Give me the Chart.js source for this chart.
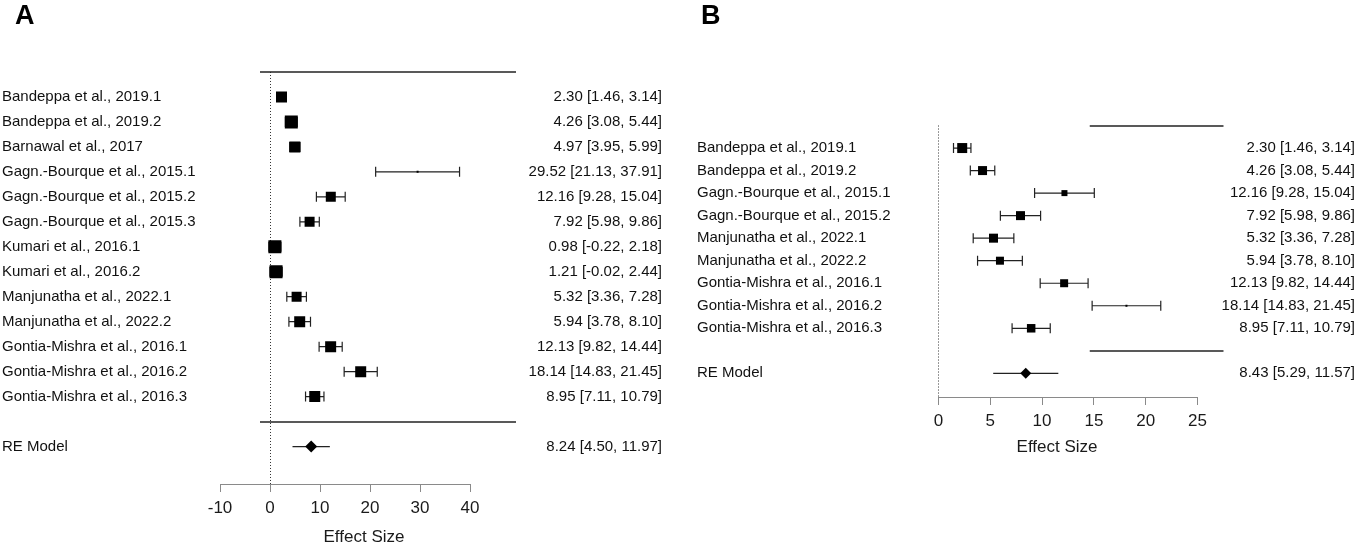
<!DOCTYPE html>
<html>
<head>
<meta charset="utf-8">
<script src="https://cdn.jsdelivr.net/npm/chart.js@4.4.1/dist/chart.umd.min.js"></script>
<style>
  body { margin: 0; background: #fff; }
  #wrap { position: relative; width: 1358px; height: 544px; font-family: "Liberation Sans", Arial, sans-serif; }
  canvas { position: absolute; top: 0; }
  #chartA { left: 0; }
  #chartB { left: 680px; }
  .panel { position: absolute; top: 2px; font-weight: bold; font-size: 27px; line-height: 27px; color: #000; }
</style>
</head>
<body>
<div id="wrap">
  <canvas id="chartA" width="680" height="544"></canvas>
  <canvas id="chartB" width="678" height="544"></canvas>
  <div class="panel" style="left:15px">A</div>
  <div class="panel" style="left:701px">B</div>
</div>
<script>
// panel A - all studies
var studiesA = ["Bandeppa et al., 2019.1", "Bandeppa et al., 2019.2", "Barnawal et al., 2017",
  "Gagn.-Bourque et al., 2015.1", "Gagn.-Bourque et al., 2015.2", "Gagn.-Bourque et al., 2015.3",
  "Kumari et al., 2016.1", "Kumari et al., 2016.2", "Manjunatha et al., 2022.1", "Manjunatha et al., 2022.2",
  "Gontia-Mishra et al., 2016.1", "Gontia-Mishra et al., 2016.2", "Gontia-Mishra et al., 2016.3"];
var estA = [2.30, 4.26, 4.97, 29.52, 12.16, 7.92, 0.98, 1.21, 5.32, 5.94, 12.13, 18.14, 8.95];
var lowA = [1.46, 3.08, 3.95, 21.13, 9.28, 5.98, -0.22, -0.02, 3.36, 3.78, 9.82, 14.83, 7.11];
var highA = [3.14, 5.44, 5.99, 37.91, 15.04, 9.86, 2.18, 2.44, 7.28, 8.10, 14.44, 21.45, 10.79];
var reA = [8.24, 4.50, 11.97];
var ticksA = [-10, 0, 10, 20, 30, 40];

// panel B - subset
var studiesB = ["Bandeppa et al., 2019.1", "Bandeppa et al., 2019.2", "Gagn.-Bourque et al., 2015.1",
  "Gagn.-Bourque et al., 2015.2", "Manjunatha et al., 2022.1", "Manjunatha et al., 2022.2",
  "Gontia-Mishra et al., 2016.1", "Gontia-Mishra et al., 2016.2", "Gontia-Mishra et al., 2016.3"];
var estB = [2.30, 4.26, 12.16, 7.92, 5.32, 5.94, 12.13, 18.14, 8.95];
var lowB = [1.46, 3.08, 9.28, 5.98, 3.36, 3.78, 9.82, 14.83, 7.11];
var highB = [3.14, 5.44, 15.04, 9.86, 7.28, 8.10, 14.44, 21.45, 10.79];
var reB = [8.43, 5.29, 11.57];
var ticksB = [0, 5, 10, 15, 20, 25];

// box side in px (weights)
var boxA = [11, 13, 11, 2, 10, 10, 13, 13, 10, 11, 11, 11, 11];
var boxB = [10, 9, 6, 9, 9, 8, 8, 2, 8.5];

var FONT = "'Liberation Sans', Arial, sans-serif";
Chart.defaults.font.family = FONT;
Chart.defaults.color = '#1a1a1a';

function fmt(e, l, h) {
  return e.toFixed(2) + ' [' + l.toFixed(2) + ', ' + h.toFixed(2) + ']';
}

function forestPlugin(lo, hi, re, k, lay) {
  return {
    id: 'forest',
    beforeDatasetsDraw: function(chart) {
      var ctx = chart.ctx, area = chart.chartArea, x = chart.scales.x, y = chart.scales.y;
      ctx.save();
      // dotted line at zero
      var x0 = Math.round(x.getPixelForValue(0)) + 0.5;
      ctx.strokeStyle = '#333';
      ctx.lineWidth = 1;
      ctx.setLineDash([1, 2]);
      ctx.beginPath();
      ctx.moveTo(x0, y.getPixelForValue(k + 1));
      ctx.lineTo(x0, area.bottom);
      ctx.stroke();
      ctx.setLineDash([]);
      // rules above and below the studies
      ctx.strokeStyle = '#222';
      ctx.lineWidth = 1.5;
      [k + 1, 0].forEach(function(r) {
        var py = Math.round(y.getPixelForValue(r));
        ctx.beginPath();
        ctx.moveTo(x.getPixelForValue(lay.ruleFrom), py);
        ctx.lineTo(x.getPixelForValue(lay.ruleTo), py);
        ctx.stroke();
      });
      // axis line between first and last tick
      ctx.strokeStyle = '#8a8a8a';
      ctx.lineWidth = 1;
      var ay = Math.round(area.bottom) + 0.5;
      ctx.beginPath();
      ctx.moveTo(x.getPixelForValue(lay.ticks[0]), ay);
      ctx.lineTo(x.getPixelForValue(lay.ticks[lay.ticks.length - 1]), ay);
      ctx.stroke();
      // confidence intervals
      ctx.strokeStyle = '#222';
      ctx.lineWidth = 1.2;
      lo.forEach(function(l, i) {
        var py = y.getPixelForValue(k - i), a = x.getPixelForValue(l), b = x.getPixelForValue(hi[i]);
        ctx.beginPath();
        ctx.moveTo(a, py); ctx.lineTo(b, py);
        ctx.moveTo(a, py - 5); ctx.lineTo(a, py + 5);
        ctx.moveTo(b, py - 5); ctx.lineTo(b, py + 5);
        ctx.stroke();
      });
      var ry = y.getPixelForValue(-1);
      ctx.beginPath();
      ctx.moveTo(x.getPixelForValue(re[1]), ry);
      ctx.lineTo(x.getPixelForValue(re[2]), ry);
      ctx.stroke();
      ctx.restore();
    },
    afterDraw: function(chart) {
      // axis title, centred like the original rather than on the chart area
      var ctx = chart.ctx, x = chart.scales.x;
      ctx.save();
      ctx.font = '17px ' + FONT;
      ctx.fillStyle = '#1a1a1a';
      ctx.textAlign = 'center';
      ctx.textBaseline = 'middle';
      ctx.fillText('Effect Size', x.getPixelForValue(lay.titleAt), chart.chartArea.bottom + lay.titleDy);
      ctx.restore();
    }
  };
}

function buildForest(id, names, est, lo, hi, re, boxes, lay) {
  var k = names.length;
  var rows = names.map(function(n, i) { return k - i; }).concat([-1]);
  var pts = est.map(function(e, i) { return {x: e, y: k - i}; });
  var leftLabel = function(v) { return v === -1 ? 'RE Model' : names[k - v]; };
  var rightLabel = function(v) {
    return v === -1 ? fmt(re[0], re[1], re[2]) : fmt(est[k - v], lo[k - v], hi[k - v]);
  };
  var yAxis = function(pos, cb, w) {
    return {
      type: 'linear', position: pos, min: lay.yMin, max: lay.yMax,
      grid: {display: false}, border: {display: false},
      afterBuildTicks: function(s) { s.ticks = rows.map(function(r) { return {value: r}; }); },
      afterFit: function(s) { s.width = w; },
      ticks: {autoSkip: false, crossAlign: 'far', padding: 0, font: {size: 15}, color: '#111', callback: cb}
    };
  };
  return new Chart(document.getElementById(id), {
    type: 'scatter',
    data: {
      datasets: [
        {data: pts, pointStyle: 'rect', backgroundColor: '#000', borderWidth: 0,
          pointRadius: boxes.map(function(s) { return s / Math.SQRT2; })},
        {data: [{x: re[0], y: -1}], pointStyle: 'rectRot', backgroundColor: '#000', borderWidth: 0,
          pointRadius: lay.diamond}
      ]
    },
    options: {
      responsive: false,
      animation: false,
      events: [],
      layout: {padding: lay.pad},
      plugins: {legend: {display: false}, tooltip: {enabled: false}},
      scales: {
        x: {
          type: 'linear', min: lay.xMin, max: lay.xMax,
          afterBuildTicks: function(s) { s.ticks = lay.ticks.map(function(t) { return {value: t}; }); },
          afterFit: function(s) { s.height = 60; },
          grid: {drawOnChartArea: false, drawTicks: true, tickLength: 8, color: '#8a8a8a'},
          border: {display: false},
          ticks: {font: {size: 17}, color: '#1a1a1a', padding: 6, callback: function(v) { return String(v); }},
          title: {display: false}
        },
        y: yAxis('left', leftLabel, lay.leftW),
        yR: yAxis('right', rightLabel, lay.rightW)
      }
    },
    plugins: [forestPlugin(lo, hi, re, k, lay)]
  });
}

buildForest('chartA', studiesA, estA, lowA, highA, reA, boxA, {
  pad: {left: 2, right: 18, top: 59.5, bottom: 0},
  leftW: 218, rightW: 146,
  xMin: -10, xMax: 49.2, yMin: -2.5, yMax: 14.5,
  ticks: ticksA, ruleFrom: -2, ruleTo: 49.2, diamond: 6,
  titleAt: 18.8, titleDy: 53
});

buildForest('chartB', studiesB, estB, lowB, highB, reB, boxB, {
  pad: {left: 17, right: 3, top: 112, bottom: 87},
  leftW: 231, rightW: 137,
  xMin: -1, xMax: 26.97, yMin: -2.05, yMax: 10.6,
  ticks: ticksB, ruleFrom: 14.6, ruleTo: 27.5, diamond: 5.5,
  titleAt: 11.45, titleDy: 50
});
</script>
</body>
</html>
